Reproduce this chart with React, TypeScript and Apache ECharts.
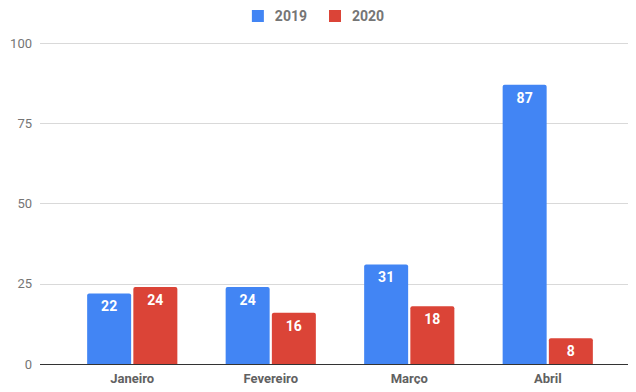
import React, { useEffect, useRef } from "react";
import * as echarts from "echarts";

const categories = ["Janeiro", "Fevereiro", "Março", "Abril"];
const series2019 = [22, 24, 31, 87];
const series2020 = [24, 16, 18, 8];
const seriesNames = ["2019", "2020"];

export default function App() {
  const ref = useRef<HTMLDivElement>(null);
  useEffect(() => {
    if (!ref.current) return;
    const chart = echarts.init(ref.current, undefined, { renderer: "svg" });
    const label = {
      show: true,
      position: "insideTop",
      distance: 6,
      color: "#ffffff",
      fontWeight: "bold",
      fontSize: 14,
      fontFamily: "Roboto",
    };
    chart.setOption({
      animation: false,
      textStyle: { fontFamily: "Roboto" },
      legend: {
        top: 4,
        left: "center",
        itemWidth: 12,
        itemHeight: 12,
        itemGap: 22,
        icon: "rect",
        textStyle: { color: "#757575", fontWeight: "bold", fontSize: 14, fontFamily: "Roboto", padding: [0, 0, 0, 6] },
        data: seriesNames,
      },
      grid: [
        { left: 40, right: 0, top: 43, bottom: 28 },
        { left: 63, right: 19, top: 43, bottom: 28 },
      ],
      xAxis: [
        { type: "category", gridIndex: 0, data: categories, show: false },
        {
          type: "category",
          gridIndex: 1,
          data: categories,
          axisLine: { show: false },
          axisTick: { show: false },
          axisLabel: { color: "#616161", fontWeight: "bold", fontSize: 13, margin: 8, fontFamily: "Roboto" },
        },
      ],
      yAxis: [
        {
          type: "value",
          gridIndex: 0,
          min: 0,
          max: 100,
          interval: 25,
          axisLine: { show: false },
          axisTick: { show: false },
          axisLabel: { color: "#757575", fontSize: 13, margin: 8, fontFamily: "Roboto" },
          splitLine: { lineStyle: { color: "#d9d9d9", width: 1 } },
        },
        {
          type: "value",
          gridIndex: 1,
          min: 0,
          max: 100,
          interval: 25,
          show: false,
          splitLine: { show: false },
        },
      ],
      series: [
        {
          name: seriesNames[0],
          type: "bar",
          xAxisIndex: 1,
          yAxisIndex: 1,
          data: series2019,
          barWidth: 44,
          barGap: "5%",
          itemStyle: { color: "#4285F4", borderRadius: [2, 2, 0, 0] },
          label,
        },
        {
          name: seriesNames[1],
          type: "bar",
          xAxisIndex: 1,
          yAxisIndex: 1,
          data: series2020,
          barWidth: 44,
          barGap: "5%",
          itemStyle: { color: "#DB4437", borderRadius: [2, 2, 0, 0] },
          label,
        },
        {
          type: "line",
          xAxisIndex: 0,
          yAxisIndex: 0,
          data: [],
          markLine: {
            silent: true,
            symbol: "none",
            label: { show: false },
            lineStyle: { color: "#333333", width: 1, type: "solid" },
            data: [{ yAxis: 0 }],
          },
        },
      ],
    });
    return () => chart.dispose();
  }, []);
  return <div ref={ref} style={{ width: 636, height: 392, margin: -8 }} />;
}
